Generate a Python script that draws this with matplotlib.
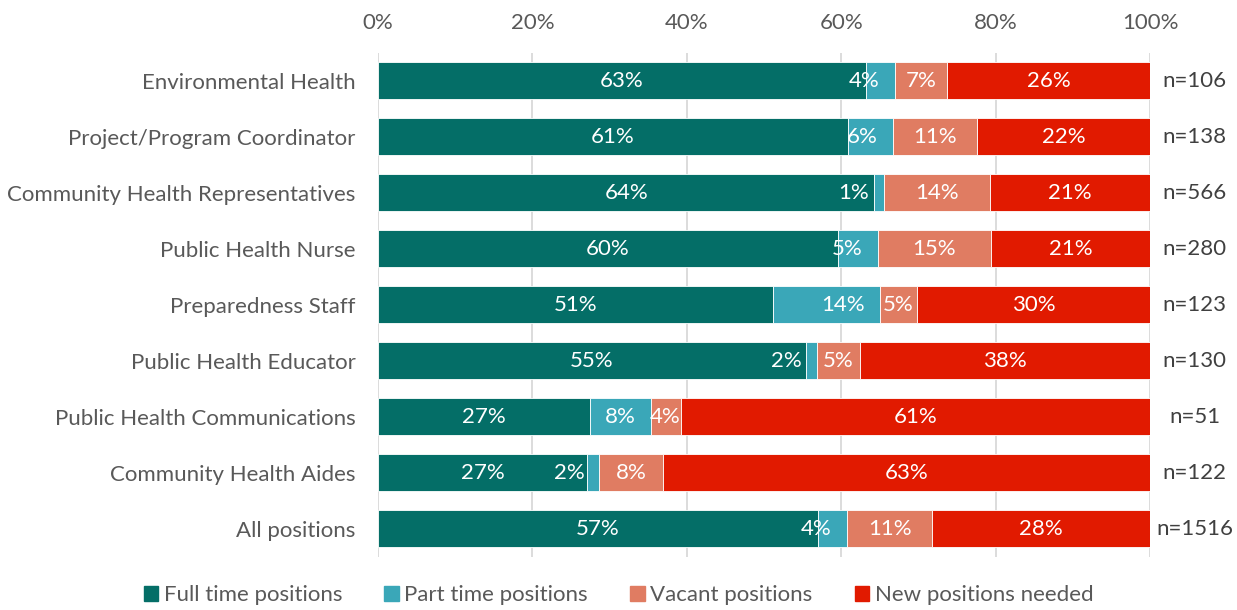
import numpy as np
import matplotlib
matplotlib.use("Agg")
import matplotlib.pyplot as plt
from matplotlib.patches import Patch

plt.rcParams["font.family"] = ["Lato", "DejaVu Sans"]

roles = ["Environmental Health", "Project/Program Coordinator", "Community Health Representatives",
         "Public Health Nurse", "Preparedness Staff", "Public Health Educator",
         "Public Health Communications", "Community Health Aides", "All positions"]
full_time = [63.2, 60.9, 64.3, 59.6, 51.2, 55.4, 27.5, 27.1, 57.0]
part_time = [3.8, 5.8, 1.3, 5.1, 13.8, 1.5, 7.8, 1.5, 3.8]
vacant = [6.7, 10.9, 13.7, 14.7, 4.8, 5.5, 3.9, 8.3, 11.0]
new_needed = [26.3, 22.4, 20.7, 20.6, 30.2, 37.6, 60.8, 63.1, 28.2]
n_counts = [106, 138, 566, 280, 123, 130, 51, 122, 1516]

full_lbl = ["63%", "61%", "64%", "60%", "51%", "55%", "27%", "27%", "57%"]
part_lbl = ["4%", "6%", "1%", "5%", "14%", "2%", "8%", "2%", "4%"]
vac_lbl = ["7%", "11%", "14%", "15%", "5%", "5%", "4%", "8%", "11%"]
new_lbl = ["26%", "22%", "21%", "21%", "30%", "38%", "61%", "63%", "28%"]
# manual nudge of part-time labels (percentage points), as in the source chart
part_nudge = [-2.1, -1.1, -3.4, -1.4, 2.1, -3.2, 0.0, -3.1, -2.2]

colors = ["#046E67", "#3AA7B8", "#E07C62", "#E11A00"]
names = ["Full time positions", "Part time positions", "Vacant positions", "New positions needed"]
grey = "#595959"

fig = plt.figure(figsize=(12.37, 6.10), dpi=100)
ax = fig.add_axes([0.3056, 0.0877, 0.6241, 0.8262])

y = np.arange(len(roles))
series = [full_time, part_time, vacant, new_needed]
labels = [full_lbl, part_lbl, vac_lbl, new_lbl]
left = np.zeros(len(roles))
for k, (vals, col) in enumerate(zip(series, colors)):
    vals = np.array(vals)
    ax.barh(y, vals, left=left, height=0.66, color=col, edgecolor="white", linewidth=0.6, zorder=3)
    for i in range(len(roles)):
        cx = left[i] + vals[i] / 2
        if k == 1:
            cx += part_nudge[i]
        ax.text(cx, y[i], labels[k][i], ha="center", va="center", color="white", fontsize=16, zorder=4)
    left += vals

for i, n in enumerate(n_counts):
    ax.text(105.8, y[i], f"n={n}", ha="center", va="center", color="#404040", fontsize=16, clip_on=False)

ax.set_xlim(0, 100)
ax.set_ylim(len(roles) - 0.5, -0.5)
ax.set_yticks(y)
ax.set_yticklabels(roles, fontsize=16, color=grey)
ax.xaxis.tick_top()
ax.set_xticks(np.arange(0, 101, 20))
ax.set_xticklabels([f"{v}%" for v in range(0, 101, 20)], fontsize=16, color=grey)
ax.tick_params(length=0)
ax.tick_params(axis="y", pad=16)
ax.tick_params(axis="x", pad=14)
ax.grid(axis="x", color="#D9D9D9", lw=1.3, zorder=0)
for s in ax.spines.values():
    s.set_visible(False)

handles = [Patch(color=c) for c in colors]
leg = fig.legend(handles, names, loc="center", bbox_to_anchor=(0.5, 0.024), ncol=4, frameon=False,
                 fontsize=16, handlelength=0.65, handleheight=0.65, handletextpad=0.25, columnspacing=1.9)
for t in leg.get_texts():
    t.set_color(grey)

fig.savefig("out.png", dpi=100)
